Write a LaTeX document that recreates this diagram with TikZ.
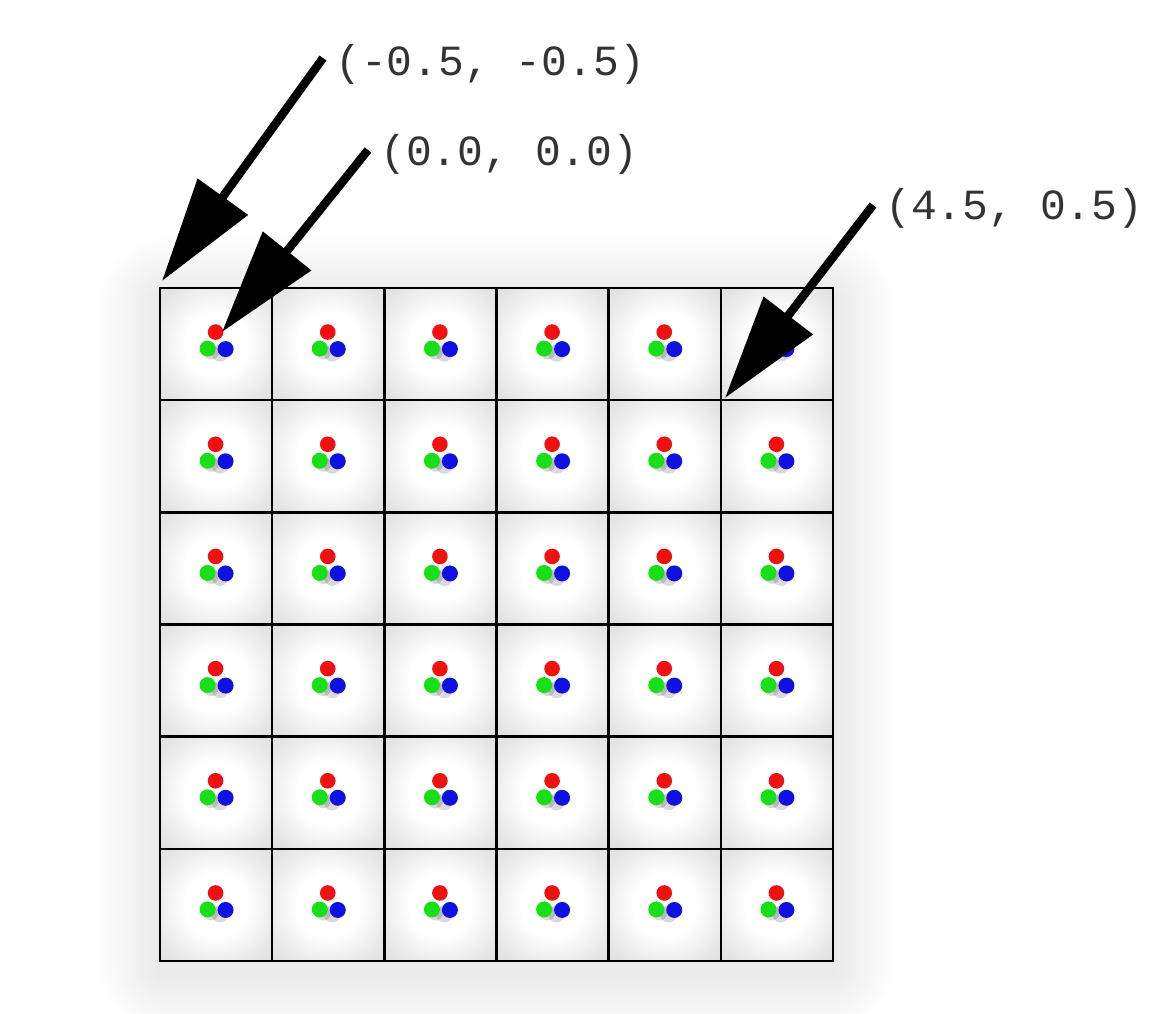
\documentclass[tikz,border=0pt]{standalone}
\usepackage{fontspec}
\setmonofont{Liberation Mono}
\usetikzlibrary{arrows.meta}
\pgfdeclareradialshading{cellshade}{\pgfpoint{0bp}{0bp}}{color(0bp)=(white); color(14bp)=(white); color(30bp)=(black!10); color(42bp)=(black!15); color(50bp)=(black!17)}
\definecolor{txt}{HTML}{333333}
\definecolor{dotred}{HTML}{F01010}
\definecolor{dotgreen}{HTML}{18E018}
\definecolor{dotblue}{HTML}{1010E0}
\tikzset{
  cell/.style={draw=black, line width=2.4pt, shading=cellshade, minimum size=112.17pt, inner sep=0pt, outer sep=0pt},
  coordlabel/.style={anchor=west, inner sep=0pt, text=txt, font=\ttfamily\fontsize{43}{50}\selectfont},
  pointer/.style={line width=8.5pt, -{Triangle[length=104pt, width=60pt]}},
  dotshadow/.style={fill=black, opacity=0.15},
}
\begin{document}
\begin{tikzpicture}[x=1pt, y=-1pt]
\useasboundingbox (0,0) rectangle (1161,1013);
% soft drop shadow of the grid
\foreach \e in {3,6,...,63} {
  \fill[black, opacity=0.0035, rounded corners=1.2*\e pt] (160-\e, 298-\e) rectangle (833+\e, 971+\e);
}
% cells
\foreach \i in {0,...,5} {
  \foreach \j in {0,...,5} {
    \pgfmathsetmacro{\cx}{160+112.17*(\i+0.5)}
    \pgfmathsetmacro{\cy}{288+112.17*(\j+0.5)}
    \node[cell] (c-\i-\j) at (\cx,\cy) {};
    \fill[dotshadow] (\cx+4,\cy+9) circle (8.5);
    \fill[dotshadow] (\cx-5,\cy+8) circle (7.5);
    \fill[dotgreen] (\cx-8.5,\cy+4.5) circle (8);
    \fill[dotblue] (\cx+9.5,\cy+5) circle (8);
    \fill[dotred] (\cx-0.5,\cy-12) circle (7.8);
  }
}
% labels
\node[coordlabel] (l1) at (335,64) {(-0.5, -0.5)};
\node[coordlabel] (l2) at (380,154) {(0.0, 0.0)};
\node[coordlabel] (l3) at (885,208) {(4.5, 0.5)};
% arrow ends
\coordinate (s1) at (323,58);
\coordinate (t1) at (162,281);
\coordinate (s2) at (368,150);
\coordinate (t2) at (222,332);
\coordinate (s3) at (873,205);
\coordinate (t3) at (725,398);
\draw[pointer] (s1) -- (t1);
\draw[pointer] (s2) -- (t2);
\draw[pointer] (s3) -- (t3);
\end{tikzpicture}
\end{document}
